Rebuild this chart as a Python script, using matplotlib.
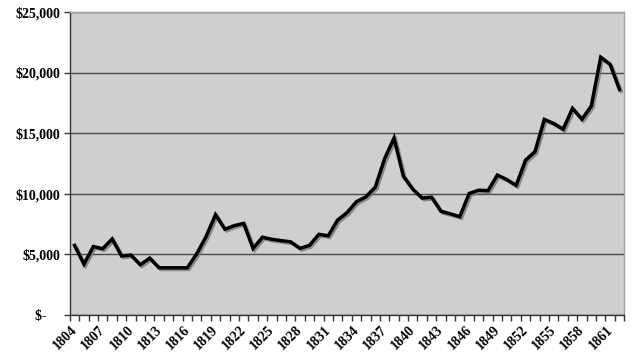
import numpy as np
import matplotlib.pyplot as plt
import matplotlib.patheffects as pe
import matplotlib.transforms as mtransforms
from matplotlib.ticker import FuncFormatter

years = list(range(1804, 1863))
values = [5750, 4200, 5650, 5480, 6280, 4880, 4950, 4150, 4700, 3900,
          3900, 3900, 3900, 5050, 6480, 8280, 7080, 7380, 7560, 5500,
          6420, 6250, 6140, 6040, 5500, 5750, 6660, 6540, 7840, 8450,
          9350, 9750, 10550, 12900, 14600, 11450, 10380, 9650, 9720, 8560,
          8350, 8120, 10030, 10300, 10260, 11550, 11180, 10700, 12780, 13480,
          16140, 15800, 15330, 17050, 16150, 17250, 21270, 20680, 18600]

plt.rcParams['font.family'] = ['Liberation Serif', 'DejaVu Serif']
plt.rcParams['font.weight'] = 'bold'

fig = plt.figure(figsize=(6.35, 3.63), dpi=100)
ax = fig.add_axes([0.110, 0.132, 0.873, 0.835])
ax.set_facecolor('#cfcfcf')

x = np.arange(len(years))
ax.plot(x, values, color='black', lw=2.5, solid_joinstyle='miter', zorder=3,
        path_effects=[pe.SimpleLineShadow(offset=(1.2, -1.2), shadow_color='#777777', alpha=0.8),
                      pe.Normal()])

ax.set_xlim(-0.5, len(years) - 0.5)
ax.set_ylim(0, 25000)

# y axis
ax.set_yticks(np.arange(0, 25001, 5000))
def money(v, pos):
    if v == 0:
        return '$-    '
    return '${:,.0f}'.format(v)
ax.yaxis.set_major_formatter(FuncFormatter(money))
ax.yaxis.grid(True, color='#4a4a4a', lw=1.0)
ax.set_axisbelow(True)
ax.tick_params(axis='y', length=4, width=1, color='#333333', labelsize=10, pad=3)

# x axis: tick marks between categories, labels every third year
ax.set_xticks(x[::3])
ax.set_xticklabels([str(years[i]) for i in x[::3]])
ax.set_xticks(np.arange(-0.5, len(years), 1), minor=True)
ax.tick_params(axis='x', which='major', length=0, pad=6, labelsize=10)
ax.tick_params(axis='x', which='minor', length=4, width=1, color='#333333')
shift = mtransforms.ScaledTranslation(-4/100, 0, fig.dpi_scale_trans)
for lab in ax.get_xticklabels():
    lab.set_rotation(45)
    lab.set_ha('right')
    lab.set_va('top')
    lab.set_rotation_mode('anchor')
    lab.set_transform(lab.get_transform() + shift)

for s in ['top', 'right']:
    ax.spines[s].set_color('#a0a0a0')
    ax.spines[s].set_linewidth(1)
for s in ['left', 'bottom']:
    ax.spines[s].set_color('#333333')
    ax.spines[s].set_linewidth(1)

fig.savefig('out.png', dpi=100)
